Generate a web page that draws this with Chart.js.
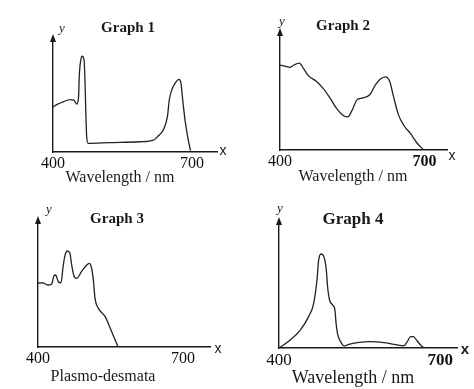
<!DOCTYPE html>
<html>
<head>
<meta charset="utf-8">
<script src="https://cdn.jsdelivr.net/npm/chart.js@4.4.0/dist/chart.umd.min.js"></script>
<style>
  body { margin: 0; background: #fff; }
  #wrap { position: relative; width: 474px; height: 389px; }
  canvas { position: absolute; }
</style>
</head>
<body>
<div id="wrap">
  <canvas id="g1" width="237" height="195" style="left:0;top:0"></canvas>
  <canvas id="g2" width="237" height="195" style="left:237px;top:0"></canvas>
  <canvas id="g3" width="237" height="195" style="left:0;top:195px"></canvas>
  <canvas id="g4" width="237" height="195" style="left:237px;top:195px"></canvas>
</div>
<script>
// tick labels on every x axis
const tickLabels = [400, 700];

// Graph 1
const g1Wavelength = [400, 410, 422, 437, 445, 451, 455, 457, 460, 463, 467, 469, 470.5, 472.7, 476, 523, 588, 617, 627, 638, 647, 651, 656, 663, 672, 676, 680, 685, 692, 697];
const g1Value      = [39.5, 42, 44, 46, 45.6, 42, 47, 69, 80.7, 84, 80.7, 63, 40, 13.4, 7.6, 8.2, 9, 10.5, 14, 19.3, 31, 45.6, 54, 60, 63.7, 60.8, 45.6, 28, 10.5, 1.2];

// Graph 2
const g2Wavelength = [400, 410, 421, 429, 440, 449, 459, 476, 490, 504, 518, 532, 541, 549, 560, 570, 587, 598, 608, 619, 628, 636, 646, 657, 671, 685, 699];
const g2Value      = [72, 71, 70, 72, 73.6, 69, 63, 58, 52, 44, 35, 29, 28, 33, 42.5, 44, 47, 55, 60, 62, 58, 45, 30, 21, 14, 5.7, 0];

// Graph 3
const g3Wavelength = [400, 410, 421, 428, 433, 436.6, 442, 447.6, 452, 456, 460.7, 466, 469.7, 475, 480, 490, 501, 506, 511, 514.5, 518, 525, 539, 552.5, 566];
const g3Value      = [50.3, 50.5, 48.8, 49.4, 56, 56.7, 51.4, 50.6, 63.5, 72.4, 75.6, 73.8, 64.6, 55.4, 54, 59.3, 64.6, 65.9, 62, 52.8, 38.3, 30.4, 23.9, 12, 0];

// Graph 4
const g4Wavelength = [400, 421, 439.6, 455, 464.4, 470.6, 473.7, 478, 483, 488, 490.4, 494, 500, 504, 506, 509, 514.6, 521, 530, 545.6, 570, 595, 614, 632.5, 638.6, 644.8, 650, 657, 666.5, 674.5];
const g4Value      = [0, 6.3, 14, 24.7, 35, 53.5, 69, 74, 72.4, 61.4, 48, 37.8, 33.8, 30, 20, 11, 5, 1.6, 2.9, 4.2, 5, 4.2, 2.9, 1.8, 5, 8.9, 8.9, 5.5, 1, 0];

const W = 237, H = 195;

const panels = [
  { id: 'g1', wl: g1Wavelength, val: g1Value, title: 'Graph 1', xTitle: 'Wavelength / nm',
    area: { left: 53, top: 38, right: 217, bottom: 152 }, xMax: 754,
    titlePos: [128, 28], xTitlePos: [120, 178], xPos: [223, 151], yPos: [62, 29], big: false, bold700: false },
  { id: 'g2', wl: g2Wavelength, val: g2Value, title: 'Graph 2', xTitle: 'Wavelength / nm',
    area: { left: 43, top: 32, right: 210, bottom: 150 }, xMax: 747,
    titlePos: [106, 26], xTitlePos: [116, 177], xPos: [215, 156], yPos: [45, 22], big: false, bold700: true },
  { id: 'g3', wl: g3Wavelength, val: g3Value, title: 'Graph 3', xTitle: 'Plasmo-desmata',
    area: { left: 38, top: 25, right: 210, bottom: 152 }, xMax: 756,
    titlePos: [117, 24], xTitlePos: [103, 182], xPos: [218, 154], yPos: [49, 15], big: false, bold700: false },
  { id: 'g4', wl: g4Wavelength, val: g4Value, title: 'Graph 4', xTitle: 'Wavelength / nm',
    area: { left: 42, top: 26, right: 220, bottom: 153 }, xMax: 731,
    titlePos: [116, 25], xTitlePos: [116, 183], xPos: [228, 155], yPos: [43, 14], big: true, bold700: true }
];

function makeDecor(p) {
  return {
    id: 'decor',
    afterDraw(chart) {
      const ctx = chart.ctx;
      const a = chart.chartArea;
      ctx.save();
      ctx.fillStyle = '#1a1a1a';
      // arrow on the y axis
      ctx.beginPath();
      ctx.moveTo(a.left, a.top - 4);
      ctx.lineTo(a.left - 3, a.top + 4);
      ctx.lineTo(a.left + 3, a.top + 4);
      ctx.closePath();
      ctx.fill();

      ctx.textAlign = 'center';
      ctx.textBaseline = 'middle';
      ctx.font = 'bold ' + (p.big ? 17 : 15) + 'px "Liberation Serif"';
      ctx.fillText(p.title, p.titlePos[0], p.titlePos[1]);
      ctx.font = (p.big ? 18 : 16) + 'px "Liberation Serif"';
      ctx.fillText(p.xTitle, p.xTitlePos[0], p.xTitlePos[1]);
      ctx.font = (p.big ? 'bold 15px' : '14px') + ' "Liberation Sans"';
      ctx.fillText('x', p.xPos[0], p.xPos[1]);
      ctx.font = 'italic 13px "Liberation Serif"';
      ctx.fillText('y', p.yPos[0], p.yPos[1]);
      ctx.restore();
    }
  };
}

panels.forEach(p => {
  const canvas = document.getElementById(p.id);
  new Chart(canvas.getContext('2d'), {
    type: 'line',
    data: {
      datasets: [{
        data: p.wl.map((w, i) => ({ x: w, y: p.val[i] })),
        borderColor: '#222',
        borderWidth: 1.3,
        pointRadius: 0,
        fill: false,
        cubicInterpolationMode: 'monotone'
      }]
    },
    options: {
      responsive: false,
      animation: false,
      events: [],
      layout: { padding: { left: p.area.left, top: p.area.top, right: W - p.area.right, bottom: 0 } },
      plugins: { legend: { display: false }, tooltip: { enabled: false } },
      scales: {
        x: {
          type: 'linear',
          min: 400,
          max: p.xMax,
          grid: { display: false, drawTicks: false },
          border: { display: true, color: '#1a1a1a', width: 1.4 },
          afterBuildTicks: s => { s.ticks = tickLabels.map(v => ({ value: v })); },
          afterFit: s => { s.height = H - p.area.bottom; },
          ticks: {
            color: '#111',
            padding: 2,
            maxRotation: 0,
            autoSkip: false,
            font: c => ({
              family: 'Liberation Serif',
              size: p.big ? 17 : 16,
              weight: (p.bold700 && c.tick && c.tick.value === 700) ? 'bold' : 'normal'
            })
          }
        },
        y: {
          min: 0,
          max: 100,
          grid: { display: false, drawTicks: false },
          border: { display: true, color: '#1a1a1a', width: 1.4 },
          ticks: { display: false },
          afterFit: s => { s.width = 0; }
        }
      }
    },
    plugins: [makeDecor(p)]
  });
});
</script>
</body>
</html>
